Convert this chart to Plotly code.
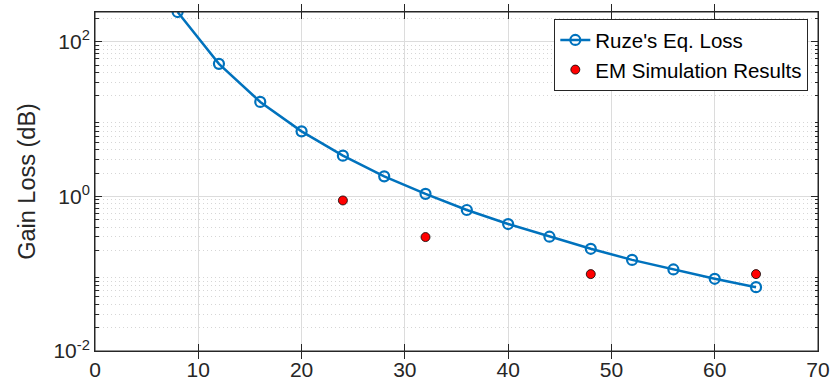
import plotly.graph_objects as go

ruze_x = [8, 12, 16, 20, 24, 28, 32, 36, 40, 44, 48, 52, 56, 60, 64]
ruze_y = [243, 51.9, 16.7, 6.95, 3.37, 1.82, 1.08, 0.667, 0.439, 0.301, 0.210, 0.151, 0.1135, 0.0859, 0.067]
em_x = [24, 32, 48, 64]
em_y = [0.887, 0.298, 0.0988, 0.0988]

x_ticks = [0, 10, 20, 30, 40, 50, 60, 70]
y_tickvals = [0.01, 1, 100]
y_ticktext = ["10<sup>-2</sup>", "10<sup>0</sup>", "10<sup>2</sup>"]
y_minor_vals = [m * 10.0 ** e for e in (-2, -1, 0, 1, 2) for m in range(2, 10)]

FONT = "Liberation Sans, Arial, sans-serif"
AXC = "#262626"

fig = go.Figure()
fig.add_trace(go.Scatter(
    x=ruze_x, y=ruze_y, mode="lines+markers", name="Ruze's Eq. Loss",
    line=dict(color="#0072BD", width=2.5),
    marker=dict(symbol="circle-open", size=10, color="#0072BD", line=dict(width=2.2, color="#0072BD")),
))
fig.add_trace(go.Scatter(
    x=em_x, y=em_y, mode="markers", name="EM Simulation Results",
    marker=dict(symbol="circle", size=9, color="#FF0000", line=dict(width=0.8, color="#000000")),
))
fig.add_trace(go.Scatter(x=[None], y=[None], yaxis="y2", showlegend=False, hoverinfo="skip"))

fig.update_layout(
    width=838, height=387,
    margin=dict(l=95, r=20, t=12, b=36),
    paper_bgcolor="white", plot_bgcolor="white",
    xaxis=dict(
        range=[0, 70], tickvals=x_ticks, automargin=False,
        showline=True, linecolor=AXC, linewidth=1, mirror="allticks",
        ticks="inside", ticklen=7, tickcolor=AXC,
        tickfont=dict(family=FONT, size=21, color=AXC),
        showgrid=True, gridcolor="#DCDCDC", gridwidth=1, zeroline=False,
    ),
    yaxis=dict(
        type="log", range=[-2, 2.386], tickvals=y_tickvals, ticktext=y_ticktext, automargin=False,
        showline=True, linecolor=AXC, linewidth=1, mirror="allticks",
        ticks="inside", ticklen=7, tickcolor=AXC,
        tickfont=dict(family=FONT, size=21, color=AXC),
        showgrid=True, gridcolor="#DCDCDC", gridwidth=1, zeroline=False,
        title=dict(text="Gain Loss (dB)", font=dict(family=FONT, size=23.5, color=AXC), standoff=11),
    ),
    yaxis2=dict(
        type="log", range=[-2, 2.386], overlaying="y", side="left", automargin=False,
        tickvals=y_minor_vals, showticklabels=False,
        ticks="inside", ticklen=3.5, tickcolor=AXC,
        showgrid=True, gridcolor="#D6D6D6", griddash="1px,3px", gridwidth=1,
        showline=False, zeroline=False, mirror="allticks",
    ),
    legend=dict(
        x=0.9866, y=0.979, xanchor="right", yanchor="top",
        bgcolor="white", bordercolor=AXC, borderwidth=1,
        font=dict(family=FONT, size=20.5, color="#000000"),
        tracegroupgap=0,
    ),
    shapes=[dict(type="rect", xref="paper", yref="paper", x0=0, y0=0, x1=1, y1=1,
                 line=dict(color=AXC, width=1), fillcolor="rgba(0,0,0,0)", layer="above")],
    showlegend=True,
)

fig.write_html(
    "out.html",
    config={"displayModeBar": False},
    post_script="document.body.style.margin='0';document.body.style.overflow='hidden';",
)
